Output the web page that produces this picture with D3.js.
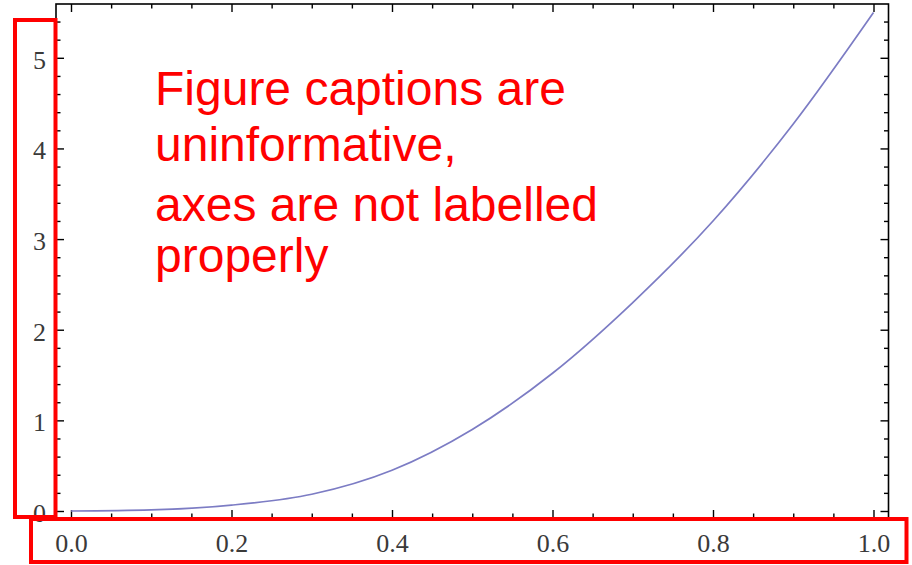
<!DOCTYPE html>
<html>
<head>
<meta charset="utf-8">
<script src="https://cdn.jsdelivr.net/npm/d3@7"></script>
<style>
  html, body { margin: 0; padding: 0; background: #fff; }
  svg { display: block; }
</style>
</head>
<body>
<div id="chart"></div>
<script>
// curve values
var xValues = [0, 0.1, 0.2, 0.3, 0.4, 0.5, 0.6, 0.7, 0.8, 0.9, 1.0];
var yValues = [0, 0.012, 0.065, 0.185, 0.45, 0.9, 1.52, 2.3, 3.2, 4.27, 5.5];

var xTickValues = [0, 0.2, 0.4, 0.6, 0.8, 1.0];
var xTickLabels = ["0.0", "0.2", "0.4", "0.6", "0.8", "1.0"];
var yTickValues = [0, 1, 2, 3, 4, 5];
var yTickLabels = ["0", "1", "2", "3", "4", "5"];

var captionLines = ["Figure captions are", "uninformative,", "axes are not labelled", "properly"];

var width = 912, height = 565;
var frame = {left: 56, right: 888.5, top: 4, bottom: 518};

var svg = d3.select("#chart").append("svg")
    .attr("width", width)
    .attr("height", height);

svg.append("rect").attr("width", width).attr("height", height).attr("fill", "#fff");

var x = d3.scaleLinear().domain([0, 1]).range([71, 873.5]);
var y = d3.scaleLinear().domain([0, 5]).range([511, 57.8]);

// frame extents in data units, used for minor tick lists
var xMin = x.invert(frame.left), xMax = x.invert(frame.right);
var yMin = y.invert(frame.bottom), yMax = y.invert(frame.top);

var xMinor = d3.range(Math.ceil(xMin / 0.05) * 0.05, xMax, 0.05)
    .filter(function(v) { return Math.abs(v / 0.2 - Math.round(v / 0.2)) > 1e-6; });
var yMinor = d3.range(Math.ceil(yMin / 0.2) * 0.2, yMax, 0.2)
    .filter(function(v) { return Math.abs(v - Math.round(v)) > 1e-6; });

var majorLen = 8, minorLen = 4.5;
var tickFont = "'Liberation Serif', 'Times New Roman', serif";

function styleAxis(g) {
    g.select(".domain").remove();
    g.selectAll("line").attr("stroke", "#000").attr("stroke-width", 1.4);
    g.selectAll("text")
        .attr("fill", "#3a3a3a")
        .style("font-family", tickFont)
        .style("font-size", "26px");
}

// bottom
svg.append("g")
    .attr("transform", "translate(0," + frame.bottom + ")")
    .call(d3.axisBottom(x).tickValues(xTickValues)
        .tickFormat(function(d, i) { return xTickLabels[i]; })
        .tickSizeInner(-majorLen).tickSizeOuter(0).tickPadding(15.5))
    .call(styleAxis);
svg.append("g")
    .attr("transform", "translate(0," + frame.bottom + ")")
    .call(d3.axisBottom(x).tickValues(xMinor).tickFormat("")
        .tickSizeInner(-minorLen).tickSizeOuter(0))
    .call(styleAxis);

// top
svg.append("g")
    .attr("transform", "translate(0," + frame.top + ")")
    .call(d3.axisTop(x).tickValues(xTickValues).tickFormat("")
        .tickSizeInner(-majorLen).tickSizeOuter(0))
    .call(styleAxis);
svg.append("g")
    .attr("transform", "translate(0," + frame.top + ")")
    .call(d3.axisTop(x).tickValues(xMinor).tickFormat("")
        .tickSizeInner(-minorLen).tickSizeOuter(0))
    .call(styleAxis);

// left
svg.append("g")
    .attr("transform", "translate(" + frame.left + ",0)")
    .call(d3.axisLeft(y).tickValues(yTickValues)
        .tickFormat(function(d, i) { return yTickLabels[i]; })
        .tickSizeInner(-majorLen).tickSizeOuter(0).tickPadding(10))
    .call(styleAxis)
    .selectAll("text").attr("dy", "0.4em");
svg.append("g")
    .attr("transform", "translate(" + frame.left + ",0)")
    .call(d3.axisLeft(y).tickValues(yMinor).tickFormat("")
        .tickSizeInner(-minorLen).tickSizeOuter(0))
    .call(styleAxis);

// right
svg.append("g")
    .attr("transform", "translate(" + frame.right + ",0)")
    .call(d3.axisRight(y).tickValues(yTickValues).tickFormat("")
        .tickSizeInner(-majorLen).tickSizeOuter(0))
    .call(styleAxis);
svg.append("g")
    .attr("transform", "translate(" + frame.right + ",0)")
    .call(d3.axisRight(y).tickValues(yMinor).tickFormat("")
        .tickSizeInner(-minorLen).tickSizeOuter(0))
    .call(styleAxis);

// frame
svg.append("rect")
    .attr("x", frame.left)
    .attr("y", frame.top)
    .attr("width", frame.right - frame.left)
    .attr("height", frame.bottom - frame.top)
    .attr("fill", "none")
    .attr("stroke", "#000")
    .attr("stroke-width", 1.6);

// curve
var points = xValues.map(function(v, i) { return [v, yValues[i]]; });
var line = d3.line()
    .x(function(d) { return x(d[0]); })
    .y(function(d) { return y(d[1]); })
    .curve(d3.curveMonotoneX);

svg.append("path")
    .datum(points)
    .attr("fill", "none")
    .attr("stroke", "#7c7cc4")
    .attr("stroke-width", 1.7)
    .attr("d", line);

// caption overlay
var captionBaselines = [105, 161, 221, 272];
svg.append("g").selectAll("text")
    .data(captionLines)
    .join("text")
    .attr("x", 155)
    .attr("y", function(d, i) { return captionBaselines[i]; })
    .attr("fill", "#ff0000")
    .style("font-family", "'Liberation Sans', Arial, sans-serif")
    .style("font-size", "48px")
    .text(function(d) { return d; });

// red highlight boxes round the unlabelled axes
svg.append("rect")
    .attr("x", 15).attr("y", 20)
    .attr("width", 40.5).attr("height", 497)
    .attr("fill", "none").attr("stroke", "#ff0000").attr("stroke-width", 4);
svg.append("rect")
    .attr("x", 31).attr("y", 519)
    .attr("width", 875.5).attr("height", 43)
    .attr("fill", "none").attr("stroke", "#ff0000").attr("stroke-width", 4);
</script>
</body>
</html>
